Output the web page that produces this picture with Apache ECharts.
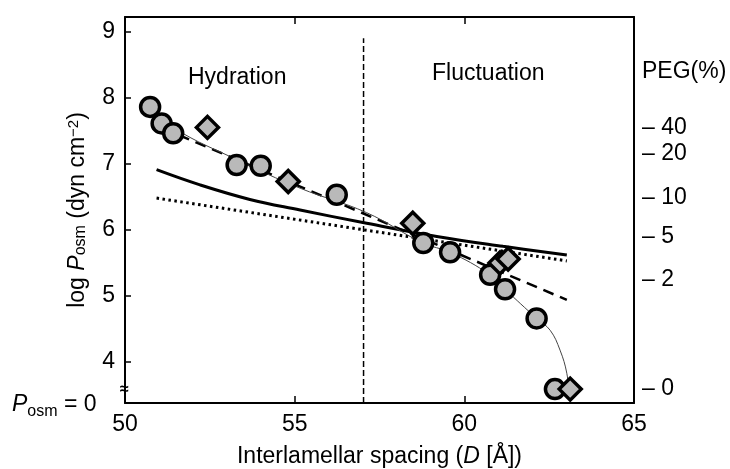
<!DOCTYPE html>
<html>
<head>
<meta charset="utf-8">
<script src="https://cdn.jsdelivr.net/npm/echarts@6/dist/echarts.min.js"></script>
<style>
  html, body { margin: 0; padding: 0; background: #fff; }
  #chart { width: 730px; height: 469px; }
</style>
</head>
<body>
<div id="chart"></div>
<script>
// measured points, interlamellar spacing D [Å] vs log Posm
const circleD = [50.74, 51.08, 51.42, 53.29, 54.0, 56.24, 58.79, 59.58, 60.76, 61.2, 62.13, 62.67];
const circleLogP = [7.86, 7.61, 7.46, 6.98, 6.97, 6.53, 5.8, 5.66, 5.32, 5.1, 4.66, 3.59];
const diamondD = [52.43, 54.81, 58.48, 61.05, 61.29, 63.12];
const diamondLogP = [7.55, 6.73, 6.1, 5.5, 5.56, 3.59];

// curves
const fitD = [50.74, 51.47, 53.3, 55.16, 57.12, 58.78, 59.58, 60.76, 61.2, 62.13, 62.53, 62.82, 63.02, 63.09];
const fitLogP = [7.86, 7.53, 7.06, 6.63, 6.26, 5.8, 5.66, 5.32, 5.1, 4.66, 4.48, 4.18, 3.83, 3.47];
const solidD = [50.93, 52.21, 53.68, 55.16, 57.01, 59.19, 61.14, 63.02];
const solidLogP = [6.91, 6.68, 6.46, 6.3, 6.11, 5.9, 5.75, 5.62];
const dottedD = [50.93, 63.02];
const dottedLogP = [6.48, 5.53];
const dashedD = [51.1, 63.02];
const dashedLogP = [7.54, 4.94];
const boundaryD = [57.03, 57.03];
const boundaryLogP = [3.38, 8.9];

// axes
const xTicks = [50, 55, 60, 65];
const yTicks = [4, 5, 6, 7, 8, 9];
const pegLogP = [7.54, 7.15, 6.48, 5.89, 5.24, 3.59];
const pegLabels = ["40", "20", "10", "5", "2", "0"];

const font = "Liberation Sans, Arial, sans-serif";
const pairs = (xs, ys) => xs.map((x, i) => [x, ys[i]]);

let myChart = echarts.init(document.getElementById("chart"));

let option = {
  animation: false,
  textStyle: { fontFamily: font },
  grid: { left: 125, right: 96, top: 17, bottom: 66, outerBoundsMode: "none" },
  xAxis: [
    {
      type: "value",
      min: xTicks[0],
      max: xTicks[xTicks.length - 1],
      interval: 5,
      position: "bottom",
      splitLine: { show: false },
      axisLine: { lineStyle: { color: "#000", width: 2 } },
      axisTick: { inside: true, length: 7, lineStyle: { color: "#000", width: 1.5 } },
      axisLabel: { color: "#000", fontSize: 23, margin: 10, fontFamily: font },
      name: "Interlamellar spacing ({i|D} [Å])",
      nameLocation: "middle",
      nameGap: 42,
      nameTextStyle: {
        color: "#000",
        fontSize: 23,
        fontFamily: font,
        rich: { i: { fontStyle: "italic", fontSize: 23, fontFamily: font, color: "#000" } },
      },
    },
    {
      type: "value",
      min: xTicks[0],
      max: xTicks[xTicks.length - 1],
      interval: 5,
      position: "top",
      splitLine: { show: false },
      axisLine: { lineStyle: { color: "#000", width: 2 } },
      axisTick: { inside: true, length: 7, lineStyle: { color: "#000", width: 1.5 } },
      axisLabel: { show: false },
    },
  ],
  yAxis: [
    {
      type: "value",
      min: 3.38,
      max: 9.22,
      position: "left",
      splitLine: { show: false },
      axisLine: { lineStyle: { color: "#000", width: 2 } },
      axisTick: { inside: true, length: 6, customValues: yTicks, lineStyle: { color: "#000", width: 1.5 } },
      axisLabel: { color: "#000", fontSize: 23, margin: 10, customValues: yTicks, fontFamily: font },
      name: "log {i|P}{sub|osm} (dyn cm{sup|−2})",
      nameLocation: "middle",
      nameRotate: 90,
      nameGap: 36,
      nameTextStyle: {
        color: "#000",
        fontSize: 23,
        fontFamily: font,
        rich: {
          i: { fontStyle: "italic", fontSize: 23, fontFamily: font, color: "#000" },
          sub: { fontSize: 16, fontFamily: font, color: "#000", verticalAlign: "bottom", lineHeight: 16 },
          sup: { fontSize: 15, fontFamily: font, color: "#000", verticalAlign: "top", lineHeight: 15 },
        },
      },
    },
    {
      type: "value",
      min: 3.38,
      max: 9.22,
      position: "right",
      splitLine: { show: false },
      axisLine: { show: true, lineStyle: { color: "#000", width: 2 } },
      axisTick: { show: false },
      axisLabel: {
        color: "#000",
        fontSize: 23,
        margin: 8,
        fontFamily: font,
        customValues: pegLogP,
        formatter: (v) => {
          let k = 0;
          pegLogP.forEach((p, i) => {
            if (Math.abs(p - v) < Math.abs(pegLogP[k] - v)) k = i;
          });
          return "– " + pegLabels[k];
        },
      },
    },
  ],
  graphic: [
    {
      type: "text",
      left: 188,
      top: 66,
      style: { text: "Hydration", fill: "#000", font: "23px " + font },
    },
    {
      type: "text",
      left: 432,
      top: 62,
      style: { text: "Fluctuation", fill: "#000", font: "23px " + font },
    },
    {
      type: "text",
      left: 642,
      top: 60,
      style: { text: "PEG(%)", fill: "#000", font: "23px " + font },
    },
    {
      type: "text",
      left: 12,
      top: 393,
      style: {
        text: "{i|P}{sub|osm} = 0",
        fill: "#000",
        font: "23px " + font,
        rich: {
          i: { fontStyle: "italic", fontSize: 23, fontFamily: font, fill: "#000" },
          sub: { fontSize: 16, fontFamily: font, fill: "#000", verticalAlign: "bottom", padding: [14, 0, 0, 0] },
        },
      },
    },
    {
      type: "text",
      left: 120,
      top: 382,
      style: { text: "≈", fill: "#000", font: "bold 16px " + font },
    },
  ],
  series: [
    {
      type: "line",
      data: pairs(boundaryD, boundaryLogP),
      showSymbol: false,
      lineStyle: { color: "#000", width: 1.5, type: [6, 3] },
      z: 1,
    },
    {
      type: "line",
      data: pairs(solidD, solidLogP),
      showSymbol: false,
      smooth: 0.4,
      lineStyle: { color: "#000", width: 3 },
      z: 2,
    },
    {
      type: "line",
      data: pairs(dottedD, dottedLogP),
      showSymbol: false,
      lineStyle: { color: "#000", width: 3, type: [2.5, 3.5] },
      z: 2,
    },
    {
      type: "line",
      data: pairs(dashedD, dashedLogP),
      showSymbol: false,
      lineStyle: { color: "#000", width: 2.5, type: [11, 7] },
      z: 2,
    },
    {
      type: "line",
      data: pairs(fitD, fitLogP),
      showSymbol: false,
      smooth: 0.4,
      lineStyle: { color: "#444", width: 1 },
      z: 2,
    },
    {
      type: "scatter",
      data: pairs(circleD, circleLogP),
      symbol: "circle",
      symbolSize: 19,
      itemStyle: { color: "#b9b9b9", borderColor: "#000", borderWidth: 3.5, opacity: 1 },
      z: 3,
    },
    {
      type: "scatter",
      data: pairs(diamondD, diamondLogP),
      symbol: "diamond",
      symbolSize: 22,
      itemStyle: { color: "#b9b9b9", borderColor: "#000", borderWidth: 3.5, opacity: 1 },
      z: 4,
    },
  ],
};

myChart.setOption(option);
</script>
</body>
</html>
